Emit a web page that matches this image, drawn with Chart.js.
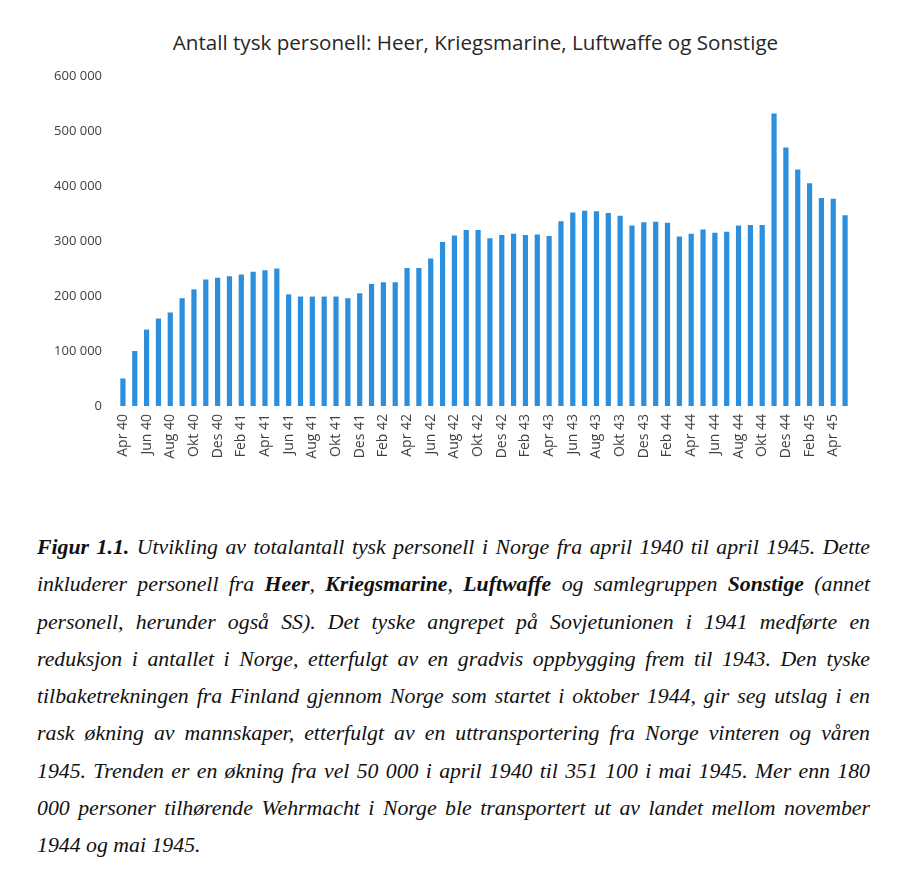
<!DOCTYPE html>
<html lang="no">
<head>
<meta charset="UTF-8">
<title>Antall tysk personell</title>
<script src="https://cdn.jsdelivr.net/npm/chart.js"></script>
<style>
  body { margin: 0; background: #fff; width: 908px; height: 880px; position: relative; overflow: hidden; }
  #title { position: absolute; top: 27px; left: 0; width: 951px; text-align: center;
           font-family: "Open Sans", sans-serif; font-size: 20.6px; line-height: 30px; color: #262626; }
  #chart { position: absolute; top: 0; left: 0; }
  #caption { position: absolute; top: 529px; left: 37px; width: 833px;
             font-family: "Liberation Serif", "Times New Roman", serif; font-style: italic;
             font-size: 21.8px; line-height: 37.25px; color: #111; }
  #caption div { white-space: nowrap; text-align: justify; text-align-last: justify; }
  #caption div.last { text-align-last: left; }
</style>
</head>
<body>
<div id="title">Antall tysk personell: Heer, Kriegsmarine, Luftwaffe og Sonstige</div>
<canvas id="chart" width="908" height="476"></canvas>
<div id="caption">
  <div><b>Figur 1.1.</b> Utvikling av totalantall tysk personell i Norge fra april 1940 til april 1945. Dette</div>
  <div>inkluderer personell fra <b>Heer</b>, <b>Kriegsmarine</b>, <b>Luftwaffe</b> og samlegruppen <b>Sonstige</b> (annet</div>
  <div>personell, herunder også SS). Det tyske angrepet på Sovjetunionen i 1941 medførte en</div>
  <div>reduksjon i antallet i Norge, etterfulgt av en gradvis oppbygging frem til 1943. Den tyske</div>
  <div>tilbaketrekningen fra Finland gjennom Norge som startet i oktober 1944, gir seg utslag i en</div>
  <div>rask økning av mannskaper, etterfulgt av en uttransportering fra Norge vinteren og våren</div>
  <div>1945. Trenden er en økning fra vel 50 000 i april 1940 til 351 100 i mai 1945. Mer enn 180</div>
  <div>000 personer tilhørende Wehrmacht i Norge ble transportert ut av landet mellom november</div>
  <div class="last">1944 og mai 1945.</div>
</div>
<script>
// måneder april 1940 - mai 1945
const months = [
  'Apr 40', 'Mai 40', 'Jun 40', 'Jul 40', 'Aug 40', 'Sep 40', 'Okt 40', 'Nov 40', 'Des 40',
  'Jan 41', 'Feb 41', 'Mar 41', 'Apr 41', 'Mai 41', 'Jun 41', 'Jul 41', 'Aug 41', 'Sep 41', 'Okt 41', 'Nov 41', 'Des 41',
  'Jan 42', 'Feb 42', 'Mar 42', 'Apr 42', 'Mai 42', 'Jun 42', 'Jul 42', 'Aug 42', 'Sep 42', 'Okt 42', 'Nov 42', 'Des 42',
  'Jan 43', 'Feb 43', 'Mar 43', 'Apr 43', 'Mai 43', 'Jun 43', 'Jul 43', 'Aug 43', 'Sep 43', 'Okt 43', 'Nov 43', 'Des 43',
  'Jan 44', 'Feb 44', 'Mar 44', 'Apr 44', 'Mai 44', 'Jun 44', 'Jul 44', 'Aug 44', 'Sep 44', 'Okt 44', 'Nov 44', 'Des 44',
  'Jan 45', 'Feb 45', 'Mar 45', 'Apr 45', 'Mai 45'
];

// totalt personell (lest av figuren)
const personnel = [
  50000, 100000, 139000, 159000, 170000, 196000, 212000, 230000, 233000,
  236000, 239000, 244000, 247000, 250000, 203000, 199000, 199000, 199000, 199000, 196000, 205000,
  222000, 225000, 225000, 251000, 251000, 268000, 298000, 310000, 320000, 320000, 305000, 311000,
  313000, 311000, 312000, 309000, 336000, 352000, 355000, 354000, 351000, 346000, 328000, 334000,
  335000, 333000, 308000, 313000, 321000, 315000, 317000, 328000, 329000, 329000, 532000, 470000,
  430000, 405000, 378000, 377000, 347000
];

const yTicks = [0, 100000, 200000, 300000, 400000, 500000, 600000];

function fmt(v) {
  return String(v).replace(/\B(?=(\d{3})+(?!\d))/g, ' ');
}

new Chart(document.getElementById('chart'), {
  type: 'bar',
  data: {
    labels: months,
    datasets: [{
      label: 'Personell',
      data: personnel,
      backgroundColor: '#2b8fde',
      barPercentage: 0.44,
      categoryPercentage: 1.0
    }]
  },
  options: {
    responsive: false,
    animation: false,
    devicePixelRatio: 1,
    layout: { padding: { top: 76, right: 57, left: 0, bottom: 0 } },
    plugins: { legend: { display: false }, tooltip: { enabled: false } },
    scales: {
      x: {
        grid: { display: false, drawTicks: false },
        border: { display: false },
        afterFit: s => { s.height = 70; },
        ticks: {
          autoSkip: false,
          maxRotation: 90,
          minRotation: 90,
          padding: 8,
          color: '#404040',
          font: { family: 'Open Sans', size: 14 },
          callback: function (v, i) { return i % 2 === 0 ? months[i] : ''; }
        }
      },
      y: {
        min: 0,
        max: 600000,
        afterFit: s => { s.width = 117; },
        afterBuildTicks: s => { s.ticks = yTicks.map(v => ({ value: v })); },
        grid: { display: false, drawTicks: false },
        border: { display: false },
        ticks: {
          padding: 15,
          color: '#404040',
          font: { family: 'Open Sans', size: 13 },
          callback: v => fmt(v)
        }
      }
    }
  }
});
</script>
</body>
</html>
